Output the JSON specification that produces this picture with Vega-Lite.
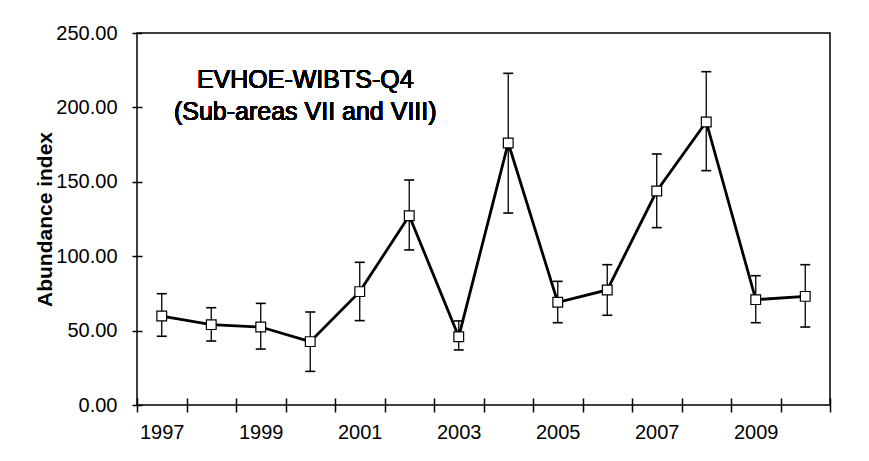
{
  "$schema": "https://vega.github.io/schema/vega-lite/v6.json",
  "width": 693,
  "height": 372,
  "autosize": {"type": "none"},
  "padding": {"left": 137, "top": 33, "right": 39, "bottom": 56},
  "background": "white",
  "config": {
    "font": "Liberation Sans",
    "view": {"stroke": "black", "strokeWidth": 1.5}
  },
  "data": {
    "values": [
      {"year": 1997, "index": 59.8, "lower": 46.2, "upper": 74.8},
      {"year": 1998, "index": 54.0, "lower": 43.0, "upper": 65.4},
      {"year": 1999, "index": 52.4, "lower": 37.6, "upper": 68.3},
      {"year": 2000, "index": 42.6, "lower": 22.6, "upper": 62.5},
      {"year": 2001, "index": 76.2, "lower": 56.7, "upper": 95.9},
      {"year": 2002, "index": 127.2, "lower": 104.2, "upper": 151.2},
      {"year": 2003, "index": 45.9, "lower": 37.0, "upper": 56.5},
      {"year": 2004, "index": 176.1, "lower": 129.0, "upper": 222.9},
      {"year": 2005, "index": 69.0, "lower": 55.3, "upper": 83.1},
      {"year": 2006, "index": 77.3, "lower": 60.3, "upper": 94.3},
      {"year": 2007, "index": 143.8, "lower": 119.2, "upper": 168.7},
      {"year": 2008, "index": 190.2, "lower": 157.5, "upper": 224.0},
      {"year": 2009, "index": 70.8, "lower": 55.3, "upper": 86.9},
      {"year": 2010, "index": 73.0, "lower": 52.4, "upper": 94.3}
    ]
  },
  "encoding": {
    "x": {
      "field": "year",
      "type": "ordinal",
      "scale": {"type": "band", "paddingInner": 0, "paddingOuter": 0},
      "axis": {
        "title": null,
        "domain": false,
        "tickBand": "extent",
        "tickSize": 14,
        "tickWidth": 1.5,
        "tickColor": "black",
        "offset": -7,
        "labelAngle": 0,
        "labelFontSize": 20,
        "labelColor": "black",
        "labelPadding": 10,
        "labelExpr": "datum.value % 2 == 1 ? datum.label : ''"
      }
    }
  },
  "layer": [
    {
      "mark": {"type": "rule", "stroke": "black", "strokeWidth": 1.3},
      "encoding": {
        "y": {
          "field": "upper",
          "type": "quantitative",
          "scale": {"domain": [0, 250], "nice": false},
          "axis": {
            "title": "Abundance index",
            "titleFontSize": 21,
            "titleFontWeight": "bold",
            "titleColor": "black",
            "titlePadding": 0,
            "values": [0, 50, 100, 150, 200, 250],
            "format": ".2f",
            "grid": false,
            "domain": false,
            "tickSize": 10,
            "tickWidth": 1.5,
            "tickColor": "black",
            "offset": -5,
            "labelFontSize": 20,
            "labelColor": "black",
            "labelPadding": 15
          }
        },
        "y2": {"field": "lower"}
      }
    },
    {
      "mark": {"type": "tick", "color": "black", "size": 10, "thickness": 1.6, "opacity": 1},
      "encoding": {"y": {"field": "upper", "type": "quantitative"}}
    },
    {
      "mark": {"type": "tick", "color": "black", "size": 10, "thickness": 1.6, "opacity": 1},
      "encoding": {"y": {"field": "lower", "type": "quantitative"}}
    },
    {
      "mark": {"type": "line", "color": "black", "strokeWidth": 2.8},
      "encoding": {"y": {"field": "index", "type": "quantitative"}}
    },
    {
      "mark": {"type": "point", "shape": "square", "size": 95, "filled": true, "fill": "white", "stroke": "black", "strokeWidth": 1.2, "opacity": 1},
      "encoding": {"y": {"field": "index", "type": "quantitative"}}
    },
    {
      "mark": {"type": "text", "fontSize": 25, "fontWeight": "normal", "color": "black", "align": "center", "baseline": "alphabetic", "lineHeight": 32, "dx": -5},
      "encoding": {
        "x": {"datum": 2000},
        "y": {"datum": 213},
        "text": {"value": ["EVHOE-WIBTS-Q4", "(Sub-areas VII and VIII)"]}
      }
    }
  ]
}
